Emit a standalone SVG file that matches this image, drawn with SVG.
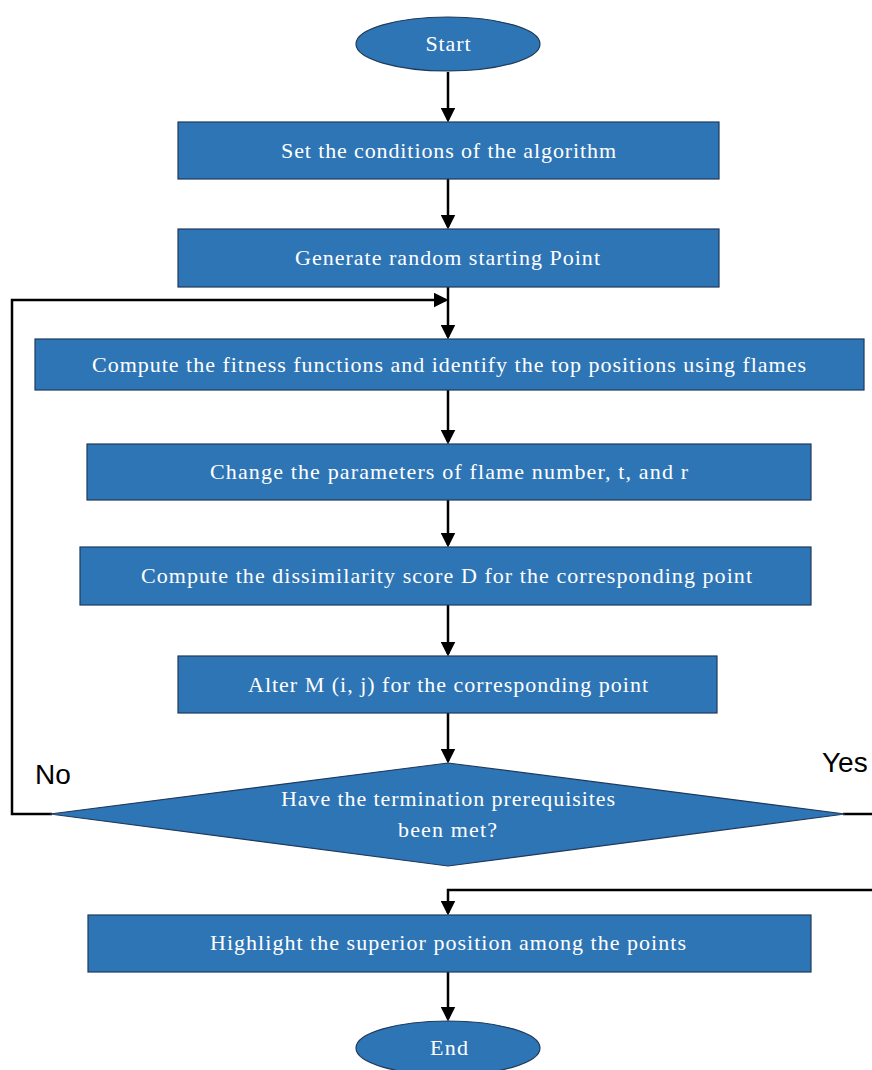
<svg xmlns="http://www.w3.org/2000/svg" width="872" height="1070" viewBox="0 0 872 1070">
<style>
.n{fill:#2E75B6;stroke:#1F3A5A;stroke-width:1.2}
.t{fill:#fff;font-family:"Liberation Serif",serif;font-size:22px;text-anchor:middle;dominant-baseline:central}
.c{fill:none;stroke:#000;stroke-width:2.5}
.l{fill:#000;font-family:"Liberation Sans",sans-serif;font-size:28px}
</style>
<defs>
<marker id="a" markerWidth="6" markerHeight="6" refX="5" refY="3" orient="auto" markerUnits="strokeWidth">
<path d="M0,0 L6,3 L0,6 z" fill="#000"/>
</marker>
</defs>
<g id="connectors">
<line class="c" x1="448" y1="72" x2="448" y2="120" marker-end="url(#a)"/>
<line class="c" x1="448" y1="179" x2="448" y2="227" marker-end="url(#a)"/>
<line class="c" x1="448" y1="287" x2="448" y2="337" marker-end="url(#a)"/>
<line class="c" x1="448" y1="390" x2="448" y2="442" marker-end="url(#a)"/>
<line class="c" x1="448" y1="500" x2="448" y2="545" marker-end="url(#a)"/>
<line class="c" x1="448" y1="605" x2="448" y2="654" marker-end="url(#a)"/>
<line class="c" x1="448" y1="713" x2="448" y2="761" marker-end="url(#a)"/>
<polyline class="c" points="52,814 12,814 12,300 446,300" marker-end="url(#a)"/>
<line class="c" x1="843" y1="814" x2="872" y2="814"/>
<polyline class="c" points="872,890 448,890 448,913" marker-end="url(#a)"/>
<line class="c" x1="448" y1="972" x2="448" y2="1019" marker-end="url(#a)"/>
<text class="l" x="35" y="784">No</text>
<text class="l" x="822" y="772">Yes</text>
</g>
<g id="start"><ellipse class="n" cx="448" cy="44" rx="92" ry="27"/><text class="t" x="448" y="43" textLength="45" lengthAdjust="spacing">Start</text></g>
<g id="n1"><rect class="n" x="178" y="122" width="541" height="57"/><text class="t" x="448.5" y="150" textLength="335" lengthAdjust="spacing">Set the conditions of the algorithm</text></g>
<g id="n2"><rect class="n" x="178" y="229" width="541" height="58"/><text class="t" x="447.5" y="257" textLength="305" lengthAdjust="spacing">Generate random starting Point</text></g>
<g id="n3"><rect class="n" x="35" y="339" width="829" height="51"/><text class="t" x="449" y="364" textLength="714" lengthAdjust="spacing">Compute the fitness functions and identify the top positions using flames</text></g>
<g id="n4"><rect class="n" x="87" y="444" width="724" height="56"/><text class="t" x="449" y="471" textLength="478" lengthAdjust="spacing">Change the parameters of flame number, t, and r</text></g>
<g id="n5"><rect class="n" x="80" y="547" width="731" height="58"/><text class="t" x="446.5" y="575" textLength="611" lengthAdjust="spacing">Compute the dissimilarity score D for the corresponding point</text></g>
<g id="n6"><rect class="n" x="178" y="656" width="539" height="57"/><text class="t" x="448" y="684" textLength="400" lengthAdjust="spacing">Alter M (i, j) for the corresponding point</text></g>
<g id="decision"><polygon class="n" points="448,763 845,814 448,866 50,814"/><text class="t" x="448" y="798" textLength="334" lengthAdjust="spacing">Have the termination prerequisites</text><text class="t" x="447.5" y="829" textLength="99" lengthAdjust="spacing">been met?</text></g>
<g id="n7"><rect class="n" x="88" y="915" width="723" height="57"/><text class="t" x="448" y="942" textLength="476" lengthAdjust="spacing">Highlight the superior position among the points</text></g>
<g id="end"><ellipse class="n" cx="448" cy="1048" rx="92" ry="27"/><text class="t" x="449" y="1047" textLength="38" lengthAdjust="spacing">End</text></g>
</svg>
